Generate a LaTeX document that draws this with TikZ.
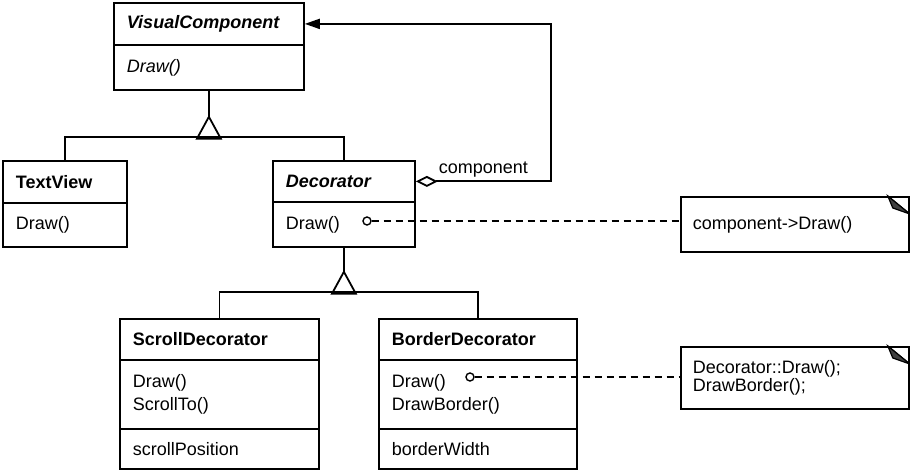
\documentclass[tikz,border=0pt]{standalone}
\usepackage{fontspec}
\setmainfont{Liberation Sans}
\usetikzlibrary{arrows.meta}
\begin{document}
\begin{tikzpicture}[x=1pt,y=-1pt,line width=1.8pt]
\tikzstyle{every node}=[font=\fontsize{18}{23}\selectfont]
\tikzstyle{part}=[draw, rectangle, anchor=north west, inner xsep=13pt, inner ysep=0pt, align=left]
\tikzstyle{note}=[part, inner xsep=12pt, font=\fontsize{18}{18}\selectfont]
\tikzstyle{port}=[circle, draw, fill=white, inner sep=0pt, minimum size=8pt, line width=1.4pt]
\useasboundingbox (0,0) rectangle (910,470);

\node (VisHead)[part, text width=164pt, minimum height=42pt] at (113,2) {\textbf{\textit{VisualComponent}}};
\node (VisBody)[part, text width=164pt, minimum height=45pt] at (113,44) {\textit{Draw()}};

\node (TextHead)[part, text width=98pt, minimum height=42pt] at (2,160) {\textbf{TextView}};
\node (TextBody)[part, text width=98pt, minimum height=44pt] at (2,202) {Draw()};

\node (DecHead)[part, text width=116pt, minimum height=41pt] at (272,160) {\textbf{\textit{Decorator}}};
\node (DecBody)[part, text width=116pt, minimum height=45pt] at (272,201) {Draw()};

\node (ScrHead)[part, text width=173pt, minimum height=41pt] at (119,318) {\textbf{ScrollDecorator}};
\node (ScrOps)[part, text width=173pt, minimum height=69pt] at (119,359) {Draw()\\ScrollTo()};
\node (ScrAttr)[part, text width=173pt, minimum height=40pt] at (119,428) {scrollPosition};

\node (BorHead)[part, text width=172pt, minimum height=41pt] at (378,318) {\textbf{BorderDecorator}};
\node (BorOps)[part, text width=172pt, minimum height=69pt] at (378,359) {Draw()\\DrawBorder()};
\node (BorAttr)[part, text width=172pt, minimum height=40pt] at (378,428) {borderWidth};

\node (Note1)[note, text width=204pt, minimum height=55pt] at (680,196) {component->Draw()};
\node (Note2)[note, text width=204pt, minimum height=62pt] at (680,346) {Decorator::Draw();\\DrawBorder();};
\foreach \n in {Note1, Note2} {
  \draw[line width=1.2pt] (\n.north east) ++(-22,0) -- ++(22,18);
  \draw[line width=1.2pt, fill=black!75] (\n.north east) ++(-22,0) -- ++(5,12) -- ++(17,6) -- cycle;
}

\node (DecPort)[port] at (367,221) {};
\node (BorPort)[port] at (470,377) {};
\draw[dash pattern=on 7pt off 5pt] (DecPort) -- (DecPort -| Note1.west);
\draw[dash pattern=on 7pt off 5pt] (BorPort) -- (BorPort -| Note2.west);

\draw (VisBody.south) -- ++(0,26) coordinate (VisTip);
\draw (VisTip) -- ++(-12,22) -- ++(24,0) -- cycle;
\draw (TextHead.north) -- ++(0,-23) -| (DecHead.north);

\draw (DecBody.south) -- ++(0,24) coordinate (DecTip);
\draw (DecTip) -- ++(-12,22) -- ++(24,0) -- cycle;
\draw (ScrHead.north) -- ++(0,-26) -| (BorHead.north);

\draw[{Diamond[open,length=22pt,width=11pt]}-{Triangle[length=15pt,width=10pt]}] (DecHead.east) -- ++(135,0) node[midway, above] {component} |- (VisHead.east);
\end{tikzpicture}
\end{document}
